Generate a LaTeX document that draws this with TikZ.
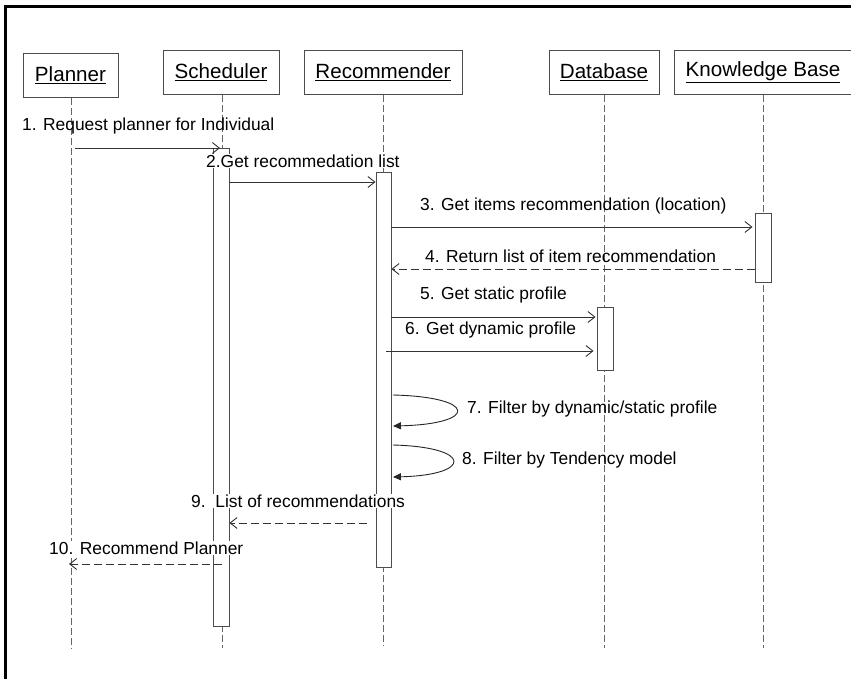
\documentclass[tikz,border=0pt]{standalone}
\usepackage{fontspec}
\setmainfont{Liberation Sans}
\usetikzlibrary{arrows.meta}
\begin{document}
\begin{tikzpicture}[x=1pt,y=-1pt,
  obj/.style={draw=black!70, line width=0.9pt, inner sep=0pt, minimum height=44pt, font=\fontsize{20.6}{24}\selectfont},
  life/.style={draw=black!60, line width=1pt, dash pattern=on 7pt off 3pt},
  act/.style={draw=black!70, fill=white, line width=0.9pt, inner sep=0pt},
  msg/.style={draw=black!80, line width=0.9pt, -{Straight Barb[length=7pt,width=11pt,line width=0.9pt]}},
  ret/.style={msg, dash pattern=on 8pt off 4pt},
  selfmsg/.style={draw=black!85, line width=0.9pt, -{Triangle[length=8pt,width=7pt]}},
  lbl/.style={inner sep=0pt, anchor=west, font=\fontsize{17.4}{20}\selectfont},
  lblw/.style={lbl, fill=white, inner ysep=1pt}]
\clip (0,0) rectangle (851,679);
\fill[white] (0,0) rectangle (851,679);
% frame
\draw[line width=3pt] (5.5,690) -- (5.5,7) -- (900,7);

% objects
\node[obj, minimum width=95pt] (pl) at (70.5,75.5) {\underline{Planner}};
\node[obj, minimum width=116pt] (sc) at (221,72.5) {\underline{Scheduler}};
\node[obj, minimum width=158pt] (rc) at (383,72.5) {\underline{Recommender}};
\node[obj, minimum width=110pt] (db) at (604,72.5) {\underline{Database}};
\node[obj, minimum width=178pt] (kb) at (763,72.5) {\underline{Knowledge Base}};

% lifeline ends
\coordinate (plE) at (71,648);
\coordinate (scE) at (222,648);
\coordinate (rcE) at (383,646);
\coordinate (dbE) at (604,648);
\coordinate (kbE) at (763,648);

\draw[life] (pl.south -| plE) -- (plE);
\draw[life] (sc.south -| scE) -- (scE);
\draw[life] (rc.south -| rcE) -- (rcE);
\draw[life] (db.south -| dbE) -- (dbE);
\draw[life] (kb.south -| kbE) -- (kbE);

% activations
\node[act, minimum width=16pt, minimum height=478pt] (scA) at (221,387) {};
\node[act, minimum width=15pt, minimum height=395pt] (rcA) at (383.5,369.5) {};
\node[act, minimum width=16pt, minimum height=69pt] (kbA) at (763,247.5) {};
\node[act, minimum width=16pt, minimum height=63pt] (dbA) at (605,338.5) {};

% message endpoints
\coordinate (m1a) at (75,148);   \coordinate (m1b) at (220,148);
\coordinate (m9a) at (367,523);
\coordinate (m6a) at (386,351);
\coordinate (m10a) at (222,564); \coordinate (m10b) at (69,564);

% labels
\node[lbl]  (l1) at (22,126) {1. Request planner for Individual};
\node[lblw] (l2) at (206,161) {2.Get recommedation list};
\node[lbl]  (l3) at (420,206) {3. Get items recommendation (location)};
\node[lbl]  (l4) at (425,256) {4. Return list of item recommendation};
\node[lbl]  (l5) at (420,295) {5. Get static profile};
\node[lbl]  (l6) at (405,330) {6. Get dynamic profile};
\node[lbl]  (l7) at (467,409) {7. Filter by dynamic/static profile};
\node[lbl]  (l8) at (462,460) {8. Filter by Tendency model};
\node[lblw] (l9) at (191,501) {9.\ \ List of recommendations};
\node[lblw] (l10) at (49,548) {10. Recommend Planner};

% messages
\draw[msg] (m1a) -- (m1b);
\draw[msg] (scA.east |- 0,182) -- (rcA.west |- 0,182);
\draw[msg] (rcA.east |- 0,227) -- ([xshift=-2pt]kbA.west |- 0,227);
\draw[ret] (kbA.west |- 0,269) -- (rcA.east |- 0,269);
\draw[msg] (rcA.east |- 0,317) -- ([xshift=-1pt]dbA.west |- 0,317);
\draw[msg] (m6a) -- ([xshift=-3pt]dbA.west |- 0,351);
\draw[selfmsg] ([xshift=1.5pt]rcA.east |- 0,395) .. controls (478,397) and (478,424) .. ([xshift=1.5pt]rcA.east |- 0,426);
\draw[selfmsg] ([xshift=1.5pt]rcA.east |- 0,445) .. controls (473,447) and (473,475) .. ([xshift=1.5pt]rcA.east |- 0,477);
\draw[ret] (m9a) -- (scA.east |- 0,523);
\draw[ret] (m10a) -- (m10b);
\end{tikzpicture}
\end{document}
